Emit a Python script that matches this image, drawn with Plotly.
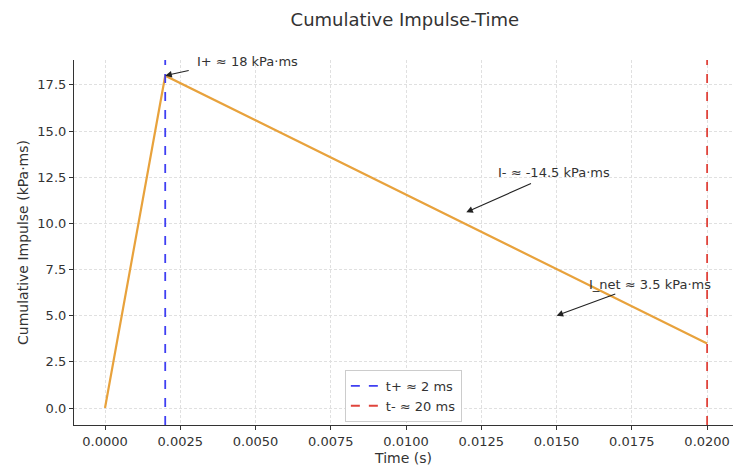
import plotly.graph_objects as go

# Data
time_s = [0.0, 0.002, 0.02]
cum_impulse = [0.0, 18.0, 3.5]
t_plus = 0.002
t_minus = 0.02
line_labels = ["t+ ≈ 2 ms", "t- ≈ 20 ms"]
y_span = [-0.92, 18.85]

ann_texts = ["I+ ≈ 18 kPa·ms", "I- ≈ -14.5 kPa·ms", "I_net ≈ 3.5 kPa·ms"]
ann_heads = [(0.002, 18.0), (0.012, 10.6), (0.015, 5.0)]
ann_tails = [(0.00283, 18.3), (0.0142, 12.2), (0.0170, 6.2)]
ann_text_pos = [(0.003, 18.75), (0.013, 12.75), (0.016, 6.7)]

FONT = "DejaVu Sans"
TXT = "#333333"

fig = go.Figure()
fig.add_trace(go.Scatter(x=time_s, y=cum_impulse, mode="lines",
                         line=dict(color="#E8A23C", width=2.2), showlegend=False))
fig.add_trace(go.Scatter(x=[t_plus, t_plus], y=y_span, mode="lines", name=line_labels[0],
                         line=dict(color="#3F3FF2", width=1.8, dash="dash")))
fig.add_trace(go.Scatter(x=[t_minus, t_minus], y=y_span, mode="lines", name=line_labels[1],
                         line=dict(color="#E0443C", width=1.8, dash="dash")))

annotations = []
for txt, (hx, hy), (tx, ty), (px, py) in zip(ann_texts, ann_heads, ann_tails, ann_text_pos):
    annotations.append(dict(x=hx, y=hy, ax=tx, ay=ty, xref="x", yref="y", axref="x", ayref="y",
                            text="", showarrow=True, arrowhead=2, arrowsize=1.2, arrowwidth=1.1,
                            arrowcolor="#222222"))
    annotations.append(dict(x=px, y=py, xref="x", yref="y", text=txt, showarrow=False,
                            xanchor="left", yanchor="middle",
                            font=dict(family=FONT, size=13, color=TXT)))

fig.update_layout(
    width=733, height=467, autosize=False,
    margin=dict(l=74, r=0, t=60, b=42),
    paper_bgcolor="white", plot_bgcolor="white",
    font=dict(family=FONT, color=TXT, size=13),
    title=dict(text="Cumulative Impulse-Time", x=0.502, xref="paper", xanchor="center",
               y=0.957, yref="container", yanchor="middle",
               font=dict(family=FONT, size=18, color=TXT)),
    legend=dict(x=0.411, y=0.151, xanchor="left", yanchor="top",
                bgcolor="white", bordercolor="#cccccc", borderwidth=1,
                font=dict(family=FONT, size=13, color=TXT), tracegroupgap=0),
    annotations=annotations,
)
fig.update_xaxes(range=[-0.00103, 0.02086], dtick=0.0025, tick0=0, tickformat=".4f",
                 showline=True, linecolor="#333333", linewidth=1.2, mirror=False,
                 ticks="outside", ticklen=4, tickcolor="#333333",
                 showgrid=True, gridcolor="#e0e0e0", griddash="3px,2px", gridwidth=0.8,
                 zeroline=False, title=dict(text="Time (s)", font=dict(size=14), standoff=5),
                 tickfont=dict(size=13))
fig.update_yaxes(range=y_span, dtick=2.5, tick0=0, tickformat=".1f",
                 showline=True, linecolor="#333333", linewidth=1.2, mirror=False,
                 ticks="outside", ticklen=4, tickcolor="#333333",
                 showgrid=True, gridcolor="#e0e0e0", griddash="3px,2px", gridwidth=0.8,
                 zeroline=False, title=dict(text="Cumulative Impulse (kPa·ms)", font=dict(size=14), standoff=5),
                 tickfont=dict(size=13))

fig.write_html("out.html")
